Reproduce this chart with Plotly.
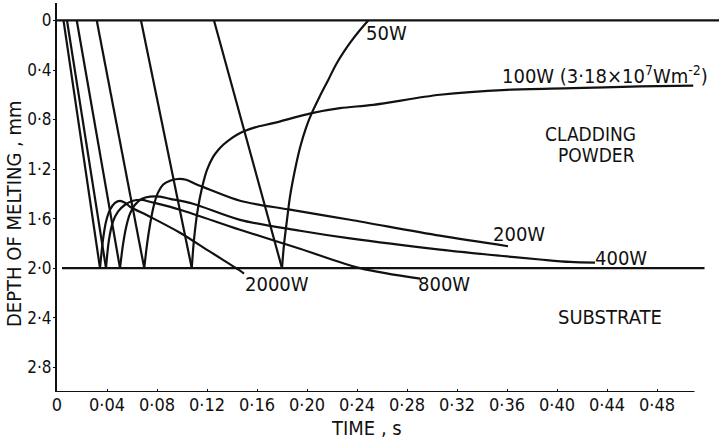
import plotly.graph_objects as go

# ---------------- data (time in s, depth of melting in mm) ----------------
t_2000W = [0.0052, 0.0344, 0.0368, 0.0392, 0.0424, 0.0464, 0.0504, 0.0544, 0.0584,
           0.0744, 0.0984, 0.1224, 0.1464, 0.1496]
d_2000W = [0.0, 2.0, 1.77, 1.625, 1.528, 1.472, 1.456, 1.472, 1.504,
           1.585, 1.714, 1.867, 2.02, 2.044]

t_800W = [0.008, 0.0392, 0.0416, 0.0448, 0.0488, 0.0544, 0.0608, 0.068, 0.0744,
          0.0984, 0.1464, 0.1944, 0.2424, 0.2904]
d_800W = [0.0, 2.0, 1.77, 1.625, 1.544, 1.488, 1.456, 1.448, 1.464,
          1.528, 1.69, 1.843, 2.0, 2.085]

t_400W = [0.0158, 0.0504, 0.0528, 0.0552, 0.0584, 0.0624, 0.068, 0.0744, 0.0824,
          0.0904, 0.1088, 0.1464, 0.1944, 0.2344, 0.3064, 0.3544, 0.3864, 0.4104, 0.4304]
d_400W = [0.0, 2.0, 1.81, 1.673, 1.56, 1.488, 1.44, 1.423, 1.423,
          1.44, 1.48, 1.61, 1.698, 1.76, 1.85, 1.90, 1.93, 1.95, 1.956]

t_200W = [0.0318, 0.0698, 0.072, 0.0744, 0.0776, 0.0808, 0.0848, 0.0904, 0.0968,
          0.1032, 0.1104, 0.1224, 0.1464, 0.1864, 0.2344, 0.3064, 0.3608]
d_200W = [0.0, 2.0, 1.81, 1.65, 1.488, 1.39, 1.327, 1.294, 1.28,
          1.286, 1.319, 1.367, 1.456, 1.528, 1.609, 1.738, 1.823]

t_100W = [0.0672, 0.1078, 0.1096, 0.1124, 0.116, 0.12, 0.125, 0.1288, 0.133, 0.1384,
          0.144, 0.149, 0.1584, 0.173, 0.2038, 0.2264, 0.253, 0.3064, 0.36, 0.413,
          0.4664, 0.509]
d_100W = [0.0, 2.0, 1.77, 1.54, 1.351, 1.206, 1.10, 1.048, 1.004, 0.96,
          0.923, 0.897, 0.863, 0.829, 0.748, 0.708, 0.681, 0.60, 0.56, 0.547,
          0.532, 0.526]

t_50W = [0.1256, 0.18, 0.1816, 0.184, 0.1864, 0.1904, 0.1944, 0.1992, 0.2038,
         0.2104, 0.217, 0.2238, 0.2344, 0.2424, 0.249]
d_50W = [0.0, 2.0, 1.81, 1.61, 1.423, 1.206, 1.028, 0.867, 0.748,
         0.609, 0.48, 0.345, 0.181, 0.077, 0.0]

# powder surface and powder/substrate interface
t_surface = [0.0, 0.5296]
d_surface = [0.0, 0.0]
t_interface = [0.004, 0.518]
d_interface = [2.0, 2.0]

x_ticks = [0, 0.04, 0.08, 0.12, 0.16, 0.20, 0.24, 0.28, 0.32, 0.36, 0.40, 0.44, 0.48]
x_ticktext = ["0", "0·04", "0·08", "0·12", "0·16", "0·20", "0·24", "0·28",
              "0·32", "0·36", "0·40", "0·44", "0·48"]
y_ticks = [0, 0.4, 0.8, 1.2, 1.6, 2.0, 2.4, 2.8]
y_ticktext = ["0", "0·4", "0·8", "1·2", "1·6", "2·0", "2·4", "2·8"]

series = [
    ("2000W", t_2000W, d_2000W),
    ("800W", t_800W, d_800W),
    ("400W", t_400W, d_400W),
    ("200W", t_200W, d_200W),
    ("100W", t_100W, d_100W),
    ("50W", t_50W, d_50W),
]

FONT = "DejaVu Sans Condensed, Liberation Sans Narrow, DejaVu Sans, sans-serif"
INK = "#111111"
LW = 2.2

fig = go.Figure()
for name, t, d in series:
    # melting front through the powder (straight), then the solidification curve
    fig.add_trace(go.Scatter(x=t[:2], y=d[:2], mode="lines", name=name + " front",
                             line=dict(color=INK, width=LW),
                             showlegend=False, hoverinfo="skip"))
    fig.add_trace(go.Scatter(x=t[1:], y=d[1:], mode="lines", name=name,
                             line=dict(color=INK, width=LW, shape="spline", smoothing=0.9),
                             showlegend=False, hoverinfo="skip"))
for name, t, d in [("surface", t_surface, d_surface), ("interface", t_interface, d_interface)]:
    fig.add_trace(go.Scatter(x=t, y=d, mode="lines", name=name,
                             line=dict(color=INK, width=LW),
                             showlegend=False, hoverinfo="skip"))

fig.update_layout(
    width=719, height=444,
    margin=dict(l=57, r=0, t=3, b=52),
    paper_bgcolor="white", plot_bgcolor="white",
    font=dict(family=FONT, size=18, color=INK),
    xaxis=dict(range=[0, 0.5296], tickvals=x_ticks, ticktext=x_ticktext,
               ticks="inside", ticklen=3, tickcolor=INK, showline=False,
               showgrid=False, zeroline=False, tickfont=dict(size=18)),
    yaxis=dict(range=[3.0, -0.141], tickvals=y_ticks, ticktext=y_ticktext,
               ticks="outside", ticklen=2, tickcolor=INK, showline=True,
               linecolor=INK, linewidth=2, showgrid=False, zeroline=False,
               tickfont=dict(size=17), ticklabelstandoff=-2),
    shapes=[dict(type="line", xref="x", yref="y", x0=0, x1=0.51, y0=3.0, y1=3.0,
                 line=dict(color=INK, width=2))],
)

LBL = dict(family=FONT, size=20, color=INK)
labels = [
    ("50W", 0.2636, 0.10, "center"),
    ("200W", 0.3692, 1.722, "center"),
    ("400W", 0.4508, 1.919, "center"),
    ("2000W", 0.1756, 2.125, "center"),
    ("800W", 0.3092, 2.125, "center"),
    ("SUBSTRATE", 0.4424, 2.395, "center"),
]
for txt, x, y, xa in labels:
    fig.add_annotation(x=x, y=y, text=txt, showarrow=False, xanchor=xa,
                       yanchor="middle", font=LBL)

fig.add_annotation(x=0.3544, y=0.44, text="100W (3·18×10<sup>7</sup>Wm<sup>-2</sup>)",
                   showarrow=False, xanchor="left", yanchor="middle", font=LBL)
fig.add_annotation(x=0.4648, y=0.916, text="CLADDING", showarrow=False,
                   xanchor="right", yanchor="middle",
                   font=dict(family=FONT, size=19, color=INK), height=18)
fig.add_annotation(x=0.464, y=1.085, text="POWDER", showarrow=False,
                   xanchor="right", yanchor="middle",
                   font=dict(family=FONT, size=19, color=INK), height=18)

# axis titles (paper coordinates)
fig.add_annotation(xref="paper", yref="paper", x=(366 - 57) / 662, y=(392 - 428) / 389,
                   text="TIME , s", showarrow=False, xanchor="center", yanchor="middle",
                   font=LBL)
fig.add_annotation(xref="paper", yref="paper", x=(14 - 57) / 662, y=(392 - 214) / 389,
                   text="DEPTH OF MELTING , mm", showarrow=False, textangle=-90,
                   xanchor="center", yanchor="middle", font=LBL)

fig.write_html("out.html")
